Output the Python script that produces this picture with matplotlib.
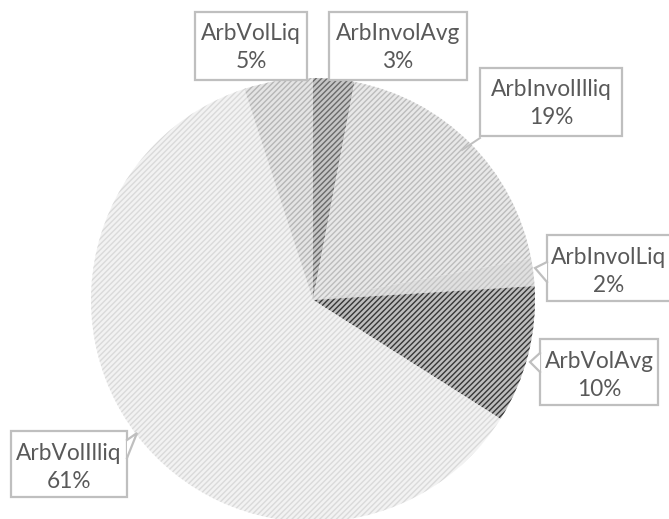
import matplotlib
matplotlib.use("Agg")
import matplotlib.pyplot as plt
from matplotlib.patches import Rectangle, Polygon

categories = ["ArbInvolAvg", "ArbInvolIlliq", "ArbInvolLiq", "ArbVolAvg", "ArbVolIlliq", "ArbVolLiq"]
values = [3, 19, 2, 10, 61, 5]
pct_labels = ["3%", "19%", "2%", "10%", "61%", "5%"]

face_colors = ["#c6c6c6", "#e8e8e8", "#e0e0e0", "#bdbdbd", "#f2f2f2", "#e4e4e4"]
hatch_colors = ["#6a6a6a", "#bcbcbc", "#c4c4c4", "#363636", "#dadada", "#b6b6b6"]

W, H = 669, 519
plt.rcParams["hatch.linewidth"] = 1.0
fig = plt.figure(figsize=(W / 100, H / 100), dpi=100)
ax = fig.add_axes([0, 0, 1, 1])
ax.axis("off")

cx, cy, r = 313, H - 300, 222
wedges, _ = ax.pie(values, startangle=90, counterclock=False, center=(cx, cy), radius=r,
                   frame=False)
for w, fc, hc in zip(wedges, face_colors, hatch_colors):
    w.set_facecolor(fc)
    w.set_edgecolor(hc)
    w.set_linewidth(0)
    w.set_hatch("//////")
ax.set_xlim(0, W)
ax.set_ylim(0, H)
ax.set_aspect("equal")

# label boxes (x0, y_top, x1, y_bottom), pixel coords from top
boxes = {
    "ArbInvolAvg": (329, 12, 467, 80),
    "ArbInvolIlliq": (480, 68, 622, 136),
    "ArbInvolLiq": (547, 235, 675, 301),
    "ArbVolAvg": (540, 339, 658, 405),
    "ArbVolIlliq": (11, 431, 127, 497),
    "ArbVolLiq": (195, 12, 307, 80),
}
pointers = {
    "ArbInvolLiq": ((547, 262), (535, 268), (547, 282)),
    "ArbVolAvg": ((540, 353), (530, 362), (540, 372)),
    "ArbVolIlliq": ((127, 440), (137, 433), (127, 458)),
}
edge_col = "#bfbfbf"
text_col = "#595959"
fs = 16.3

for cat, p in zip(categories, pct_labels):
    x0, y0, x1, y1 = boxes[cat]
    ax.add_patch(Rectangle((x0, H - y1), x1 - x0, y1 - y0, facecolor="white",
                           edgecolor=edge_col, linewidth=1.6, zorder=5))
    if cat in pointers:
        b1, t, b2 = pointers[cat]
        pts = [(b1[0], H - b1[1]), (t[0], H - t[1]), (b2[0], H - b2[1])]
        ax.add_patch(Polygon(pts, closed=True, facecolor="white", edgecolor="none", zorder=6))
        ax.plot([q[0] for q in pts], [q[1] for q in pts],
                color=edge_col, linewidth=1.6, zorder=7, solid_joinstyle="miter")
    tx = (x0 + x1) / 2 if cat != "ArbInvolLiq" else 609
    ax.text(tx, H - (y0 + 22), cat, ha="center", va="center", fontsize=fs,
            family="Lato", color=text_col, zorder=8)
    ax.text(tx, H - (y0 + 50), p, ha="center", va="center", fontsize=fs,
            family="Lato", color=text_col, zorder=8)

ax.plot([480, 462], [H - 138, H - 150], color=edge_col, linewidth=1.4, zorder=4)

fig.savefig("out.png", dpi=100)
